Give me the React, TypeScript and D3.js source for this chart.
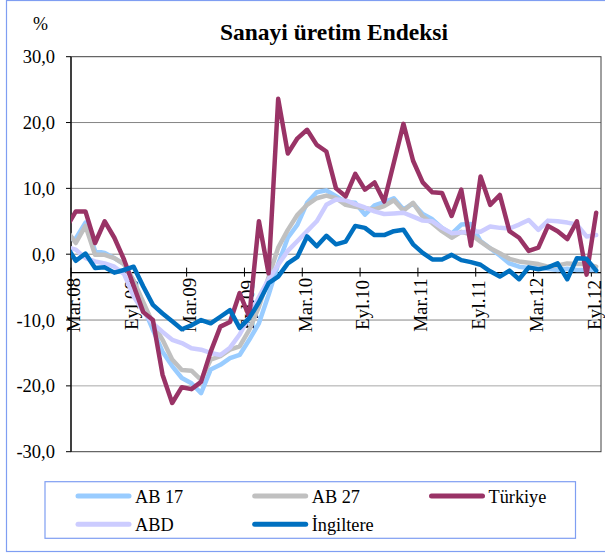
import React from "react";
import * as d3 from "d3";

const categories = [
  "Şub.08","Mar.08","Nis.08","May.08","Haz.08","Tem.08","Ağu.08","Eyl.08","Eki.08","Kas.08","Ara.08",
  "Oca.09","Şub.09","Mar.09","Nis.09","May.09","Haz.09","Tem.09","Ağu.09","Eyl.09","Eki.09","Kas.09","Ara.09",
  "Oca.10","Şub.10","Mar.10","Nis.10","May.10","Haz.10","Tem.10","Ağu.10","Eyl.10","Eki.10","Kas.10","Ara.10",
  "Oca.11","Şub.11","Mar.11","Nis.11","May.11","Haz.11","Tem.11","Ağu.11","Eyl.11","Eki.11","Kas.11","Ara.11",
  "Oca.12","Şub.12","Mar.12","Nis.12","May.12","Haz.12","Tem.12","Ağu.12","Eyl.12"
];

const tickLabels = ["Mar.08","Eyl.08","Mar.09","Eyl.09","Mar.10","Eyl.10","Mar.11","Eyl.11","Mar.12","Eyl.12"];
const yTicks = [30, 20, 10, 0, -10, -20, -30];

const ab17 = [2.2, 2.4, 4.8, 0.5, 0.2, -0.6, -1.5, -4.0, -8.0, -11.5, -14.8, -17.0, -18.8, -19.6, -21.1, -17.5, -16.8, -15.8, -15.3, -13.0, -10.5, -6.2, -1.5, 2.5, 4.5, 7.8, 9.4, 9.7, 8.8, 7.9, 7.8, 6.0, 7.4, 7.9, 8.5, 6.8, 7.7, 6.1, 5.3, 4.0, 3.1, 4.5, 4.6, 2.0, 0.9, -0.2, -1.4, -1.9, -2.1, -2.0, -2.2, -2.4, -2.2, -2.4, -2.4, -2.4];
const ab27 = [3.7, 1.7, 4.3, -0.1, -0.1, -0.6, -1.5, -4.0, -7.3, -10.5, -13.0, -16.0, -17.6, -17.7, -19.1, -16.0, -15.5, -14.5, -14.0, -11.5, -8.0, -3.5, 1.0, 3.7, 6.0, 7.5, 8.5, 8.9, 8.5, 7.5, 7.2, 7.0, 6.8, 7.3, 8.2, 6.6, 7.8, 5.7, 4.7, 3.5, 2.5, 3.4, 3.0, 1.9, 0.9, 0.15, -0.7, -1.1, -1.3, -1.5, -1.9, -1.7, -1.4, -1.5, -1.5, -1.9];
const turkiye = [4.0, 6.5, 6.5, 1.7, 5.0, 2.5, -0.8, -4.8, -8.8, -10.0, -18.3, -22.6, -20.2, -20.5, -19.4, -14.8, -11.0, -10.3, -5.9, -9.5, 5.0, -2.9, 23.6, 15.3, 17.6, 18.9, 16.6, 15.6, 10.0, 8.8, 12.2, 9.8, 10.9, 8.0, 13.9, 19.8, 14.2, 10.9, 9.4, 9.3, 5.8, 9.8, 1.3, 11.8, 7.5, 9.0, 3.5, 2.5, 0.5, 1.0, 4.3, 3.5, 2.3, 5.0, -3.1, 6.3];
const abd = [1.1, 0.7, -0.6, -1.1, -1.4, -1.9, -3.0, -6.4, -8.7, -10.5, -11.8, -13.0, -13.5, -14.3, -14.5, -15.0, -15.3, -14.2, -12.2, -9.5, -6.5, -3.8, -1.6, 0.5, 2.0, 3.5, 5.0, 7.5, 8.3, 8.2, 7.6, 7.1, 6.5, 6.1, 6.2, 6.3, 5.7, 5.1, 5.0, 4.0, 3.2, 3.3, 3.5, 3.4, 4.2, 4.0, 3.9, 4.5, 5.2, 3.7, 5.1, 5.0, 4.8, 4.5, 2.7, 2.9];
const ingiltere = [1.3, -1.0, 0.1, -2.1, -2.0, -2.8, -2.4, -1.9, -4.9, -7.7, -9.0, -10.2, -11.4, -10.8, -10.0, -10.5, -9.5, -8.5, -11.2, -9.7, -7.3, -4.4, -3.4, -1.4, -0.4, 2.7, 1.2, 2.8, 1.5, 1.9, 4.3, 4.0, 2.9, 2.9, 3.5, 3.7, 1.5, 0.2, -0.8, -0.8, -0.1, -0.9, -1.2, -1.6, -2.6, -3.4, -2.5, -3.8, -2.0, -2.3, -2.0, -1.4, -3.8, -0.6, -0.7, -2.5];

const seriesNames = ["AB 17", "AB 27", "Türkiye", "ABD", "İngiltere"];
const seriesColors = ["#99ccff", "#c0c0c0", "#993366", "#ccccff", "#0070c0"];
const seriesValues = [ab17, ab27, turkiye, abd, ingiltere];
const drawOrder = [0, 1, 3, 2, 4];

const FONT = "Liberation Serif, Times New Roman, Times, serif";
const BORDER = "#7f9ef2";

export default function App() {
  const W = 605, H = 554;
  const plotL = 71, plotR = 601, plotT = 56.7, plotB = 451.7;
  const bw = (plotR - plotL) / (categories.length - 1);
  const x = d3.scaleBand<string>().domain(categories).range([plotL - bw, plotR]).padding(0);
  const y = d3.scaleLinear().domain([-30, 30]).range([plotB, plotT]);
  const cx = (c: string) => (x(c) as number) + x.bandwidth() / 2;
  const axisY = y(-2.8);

  const line = d3.line<number>()
    .x((_, i) => cx(categories[i]))
    .y((v) => y(v));

  const fmt = (v: number) => v.toFixed(1).replace(".", ",");

  const legendCols = [76, 252.7, 429.5];
  const legendRows = [496, 524.3];

  return (
    <svg width={W} height={H} style={{ position: "absolute", left: 0, top: 0 }}>
      <rect x={0} y={0} width={W} height={H} fill="#fff" />
      <rect x={6.5} y={0.5} width={W + 10} height={551} fill="none" stroke={BORDER} strokeWidth={1.2} />
      <defs>
        <clipPath id="plotClip">
          <rect x={plotL} y={plotT} width={plotR - plotL} height={plotB - plotT} />
        </clipPath>
      </defs>

      <text x={334} y={40} textAnchor="middle" fontFamily={FONT} fontSize={23.5} fontWeight="bold" fill="#000">
        Sanayi üretim Endeksi
      </text>
      <text x={33} y={30} fontFamily={FONT} fontSize={18} fill="#000">%</text>

      {yTicks.map((t) => (
        <g key={t}>
          {t !== 30 && t !== -30 && (
            <line x1={plotL} x2={plotR} y1={y(t)} y2={y(t)} stroke={t === -20 ? "#a8a8a8" : "#858585"} strokeWidth={1} />
          )}
          <line x1={plotL - 5} x2={plotL} y1={y(t)} y2={y(t)} stroke="#000" strokeWidth={1} />
          <text x={55} y={y(t) + 6.5} textAnchor="end" fontFamily={FONT} fontSize={18.5} fill="#000">{fmt(t)}</text>
        </g>
      ))}

      <rect x={plotL} y={plotT} width={plotR - plotL} height={plotB - plotT} fill="none" stroke="#404040" strokeWidth={1} />
      <line x1={plotL} x2={plotL} y1={plotT} y2={plotB} stroke="#000" strokeWidth={1.2} />

      <line x1={plotL} x2={plotR} y1={axisY} y2={axisY} stroke="#000" strokeWidth={1.2} />
      {tickLabels.map((lab) => {
        const tx = x(lab) as number;
        return (
          <g key={lab}>
            <line x1={tx} x2={tx} y1={axisY - 5} y2={axisY + 4} stroke="#000" strokeWidth={1} />
            <text
              transform={`translate(${cx(lab) + 4.5},305) rotate(-90)`}
              textAnchor="middle"
              fontFamily={FONT}
              fontSize={19}
              fill="#000"
            >
              {lab}
            </text>
          </g>
        );
      })}

      <g clipPath="url(#plotClip)">
        {drawOrder.map((si) => (
          <path
            key={si}
            d={line(seriesValues[si]) || ""}
            fill="none"
            stroke={seriesColors[si]}
            strokeWidth={4.5}
            strokeLinejoin="round"
            strokeLinecap="round"
          />
        ))}
      </g>

      <rect x={45} y={481.7} width={530.5} height={56.6} fill="#fff" stroke={BORDER} strokeWidth={1.2} />
      {seriesNames.map((name, i) => {
        const col = i % 3;
        const row = Math.floor(i / 3);
        const lx = legendCols[col];
        const ly = legendRows[row];
        return (
          <g key={name}>
            <line x1={lx + 2} x2={lx + 53} y1={ly} y2={ly} stroke={seriesColors[i]} strokeWidth={5} strokeLinecap="round" />
            <text x={lx + 59} y={ly + 6.5} fontFamily={FONT} fontSize={18.3} fill="#000">{name}</text>
          </g>
        );
      })}
    </svg>
  );
}
